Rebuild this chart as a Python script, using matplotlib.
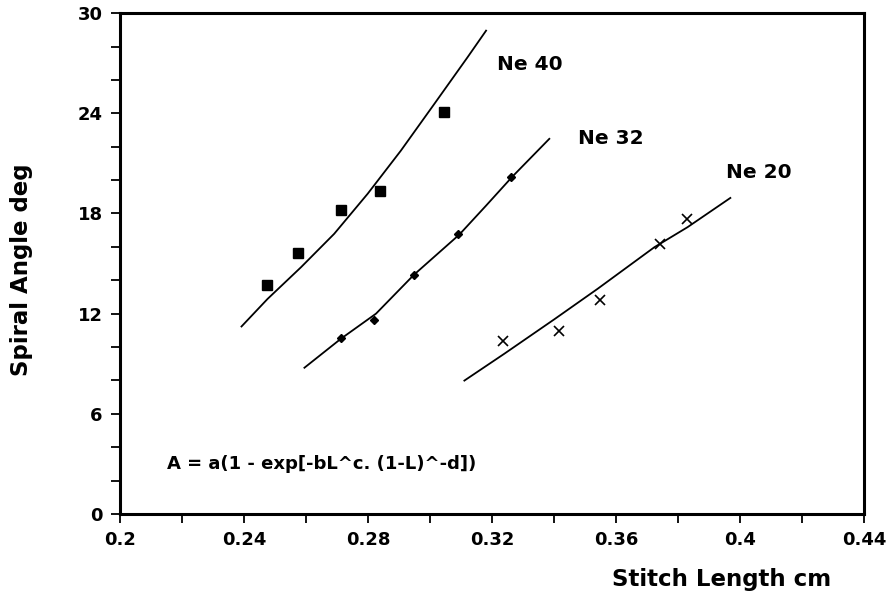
import numpy as np
import matplotlib
matplotlib.use("Agg")
import matplotlib.pyplot as plt
from matplotlib.ticker import MultipleLocator

# measured points
ne40_x = [0.2474, 0.2573, 0.2713, 0.2840, 0.3044]
ne40_y = [13.73, 15.62, 18.21, 19.35, 24.05]
ne32_x = [0.2713, 0.2818, 0.2949, 0.3092, 0.3263]
ne32_y = [10.53, 11.59, 14.34, 16.78, 20.21]
ne20_x = [0.3234, 0.3417, 0.3548, 0.3742, 0.3828]
ne20_y = [10.34, 10.98, 12.79, 16.18, 17.64]

# fitted curves
fit40_x = [0.2392, 0.2476, 0.2584, 0.2691, 0.2799, 0.2906, 0.3014, 0.3121, 0.3181]
fit40_y = [11.23, 12.88, 14.78, 16.78, 19.18, 21.76, 24.56, 27.35, 28.95]
fit32_x = [0.2595, 0.2713, 0.2826, 0.2949, 0.3095, 0.3181, 0.3266, 0.3385]
fit32_y = [8.76, 10.50, 12.00, 14.34, 16.74, 18.47, 20.21, 22.47]
fit20_x = [0.3111, 0.3240, 0.3401, 0.3541, 0.3724, 0.3831, 0.3969]
fit20_y = [7.99, 9.60, 11.66, 13.49, 15.98, 17.18, 18.93]

labels = ["Ne 40", "Ne 32", "Ne 20"]
label_x = [0.3217, 0.3476, 0.3955]
label_y = [26.9, 22.47, 20.43]

equation = "A = a(1 - exp[-bL^c. (1-L)^-d])"

plt.rcParams['font.family'] = ['DejaVu Sans']
plt.rcParams['font.weight'] = 'bold'

fig = plt.figure(figsize=(8.94, 5.96), dpi=100)
ax = fig.add_axes([0.1342, 0.1376, 0.8322, 0.8404])

ax.plot(fit40_x, fit40_y, color='black', lw=1.3)
ax.plot(fit32_x, fit32_y, color='black', lw=1.3)
ax.plot(fit20_x, fit20_y, color='black', lw=1.3)

ax.plot(ne40_x, ne40_y, 's', color='black', ms=6.5, ls='none')
ax.plot(ne32_x, ne32_y, 'D', color='black', ms=4.5, ls='none')
ax.plot(ne20_x, ne20_y, 'x', color='black', ms=7, mew=1.2, ls='none')

for t, x, y in zip(labels, label_x, label_y):
  ax.text(x, y, t, fontsize=14.5, fontweight='bold', va='center', ha='left')

ax.text(0.2153, 2.97, equation, fontsize=13, fontweight='bold', va='center', ha='left')

ax.set_xlim(0.2, 0.44)
ax.set_ylim(0, 30)
ax.xaxis.set_minor_locator(MultipleLocator(0.02))
ax.yaxis.set_major_locator(MultipleLocator(6))
ax.yaxis.set_minor_locator(MultipleLocator(2))
ax.set_xticks([0.2, 0.24, 0.28, 0.32, 0.36, 0.4, 0.44])
ax.set_xticklabels(["0.2", "0.24", "0.28", "0.32", "0.36", "0.4", "0.44"])

ax.tick_params(which='both', direction='out', length=6.5, width=1.3,
               labelsize=13, pad=6)
for lab in ax.get_xticklabels() + ax.get_yticklabels():
  lab.set_fontweight('bold')

for s in ax.spines.values():
  s.set_linewidth(2.2)

ax.set_xlabel("Stitch Length cm", fontsize=16.5, fontweight='bold')
ax.xaxis.set_label_coords(0.808, -0.108)
ax.set_ylabel("Spiral Angle deg", fontsize=16.5, fontweight='bold')
ax.yaxis.set_label_coords(-0.117, 0.487)

fig.savefig("out.png", dpi=100)
